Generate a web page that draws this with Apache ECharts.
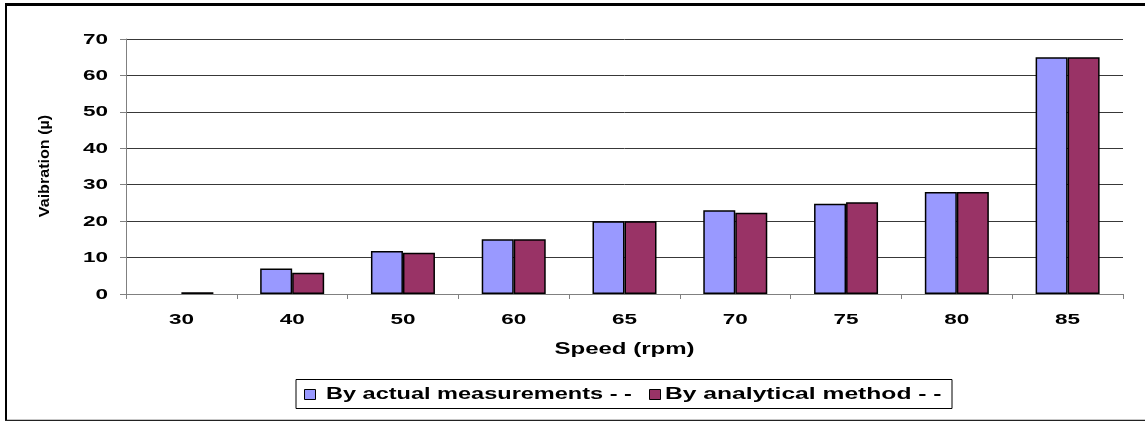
<!DOCTYPE html>
<html>
<head>
<meta charset="utf-8">
<script src="https://cdn.jsdelivr.net/npm/echarts@6/dist/echarts.min.js"></script>
<style>
  html, body { margin: 0; padding: 0; background: #fff; }
  #chart { width: 1145px; height: 421px; }
</style>
</head>
<body>
<div id="chart"></div>
<script>
// Speed categories (rpm)
const speeds = ['30', '40', '50', '60', '65', '70', '75', '80', '85'];
// Vibration amplitude (µ) for each speed
const actualMeasurements = [0, 7, 11.8, 15, 20, 23, 24.8, 28, 65];
const analyticalMethod = [0.5, 5.8, 11.3, 15, 20, 22.3, 25.2, 28, 65];
// Value-axis tick labels
const yTickValues = [0, 10, 20, 30, 40, 50, 60, 70];

const seriesNames = ['By actual measurements - -', 'By analytical method - -'];
const colors = ['#9999FF', '#993366'];
const font = '"Liberation Sans", Arial, sans-serif';
const stretch = 1.5;   // wide, stretched lettering used for all horizontal text

const chart = echarts.init(document.getElementById('chart'), null, { renderer: 'canvas' });

// Zero-height bars get no outline so nothing is drawn for them
function barData(values) {
  return values.map(v => (v === 0 ? { value: v, itemStyle: { borderWidth: 0 } } : v));
}

chart.setOption({
  animation: false,
  backgroundColor: '#ffffff',
  grid: { left: 126, right: 22, top: 39, bottom: 127 },
  xAxis: {
    type: 'category',
    data: speeds,
    axisLine: { lineStyle: { color: '#808080', width: 1 } },
    axisTick: { show: true, alignWithLabel: false, length: 5, lineStyle: { color: '#808080' } },
    axisLabel: { show: false }
  },
  yAxis: {
    type: 'value',
    min: yTickValues[0],
    max: yTickValues[yTickValues.length - 1],
    interval: yTickValues[1] - yTickValues[0],
    axisLine: { show: true, lineStyle: { color: '#808080', width: 1 } },
    axisTick: { show: true, length: 6, lineStyle: { color: '#808080' } },
    axisLabel: { show: false },
    splitLine: { lineStyle: { color: '#383838', width: 1 } }
  },
  series: [
    {
      name: seriesNames[0],
      type: 'bar',
      data: barData(actualMeasurements),
      barWidth: 32,
      barGap: '0%',
      itemStyle: { color: colors[0], borderColor: '#000', borderWidth: 1.5 }
    },
    {
      name: seriesNames[1],
      type: 'bar',
      data: barData(analyticalMethod),
      barWidth: 32,
      barGap: '0%',
      itemStyle: { color: colors[1], borderColor: '#000', borderWidth: 1.5 }
    }
  ]
});

// Stretched text helper
function label(text, x, y, opts) {
  return {
    type: 'text',
    x: x, y: y,
    scaleX: opts.scaleX || stretch,
    rotation: opts.rotation || 0,
    z: 50,
    style: {
      text: text,
      fill: '#000',
      font: 'bold ' + (opts.size || 15) + 'px ' + font,
      textAlign: opts.align || 'center',
      textVerticalAlign: 'middle'
    }
  };
}

const graphics = [];

// Value-axis labels placed with the axis scale
yTickValues.forEach(v => {
  const py = chart.convertToPixel({ yAxisIndex: 0 }, v);
  graphics.push(label(String(v), 108, py + 0.5, { align: 'right' }));
});

// Category labels placed with the axis scale
speeds.forEach(s => {
  const px = chart.convertToPixel({ xAxisIndex: 0 }, s);
  graphics.push(label(s, px, 319.5, {}));
});

// Axis titles
const grid = chart.getModel().getComponent('grid').coordinateSystem.getRect();
graphics.push(label('Speed (rpm)', grid.x + grid.width / 2, 349.5, { size: 16 }));
graphics.push(label('Vaibration (µ)', 45, grid.y + grid.height / 2 - 0.5,
  { size: 14, scaleX: 1.15, rotation: Math.PI / 2 }));

// Legend box
graphics.push({
  type: 'rect', z: 50,
  shape: { x: 296, y: 379.5, width: 656, height: 29 },
  style: { fill: '#fff', stroke: '#000', lineWidth: 1 }
});
const legendItems = [
  { icon: 304.5, text: 326, scaleX: 1.47 },
  { icon: 649.5, text: 665, scaleX: 1.54 }
];
legendItems.forEach((it, i) => {
  graphics.push({
    type: 'rect', z: 51,
    shape: { x: it.icon, y: 389.5, width: 11, height: 10 },
    style: { fill: colors[i], stroke: '#000', lineWidth: 1 }
  });
  graphics.push(label(seriesNames[i], it.text, 395, { size: 16, align: 'left', scaleX: it.scaleX }));
});

// Outer chart frame
graphics.push(
  { type: 'line', z: 100, shape: { x1: 5, y1: 4.5, x2: 1145, y2: 4.5 }, style: { stroke: '#000', lineWidth: 3 } },
  { type: 'line', z: 100, shape: { x1: 6, y1: 3, x2: 6, y2: 421 }, style: { stroke: '#000', lineWidth: 2 } },
  { type: 'line', z: 100, shape: { x1: 5, y1: 420.5, x2: 1145, y2: 420.5 }, style: { stroke: '#222', lineWidth: 1.5 } }
);

chart.setOption({ graphic: graphics });
</script>
</body>
</html>
